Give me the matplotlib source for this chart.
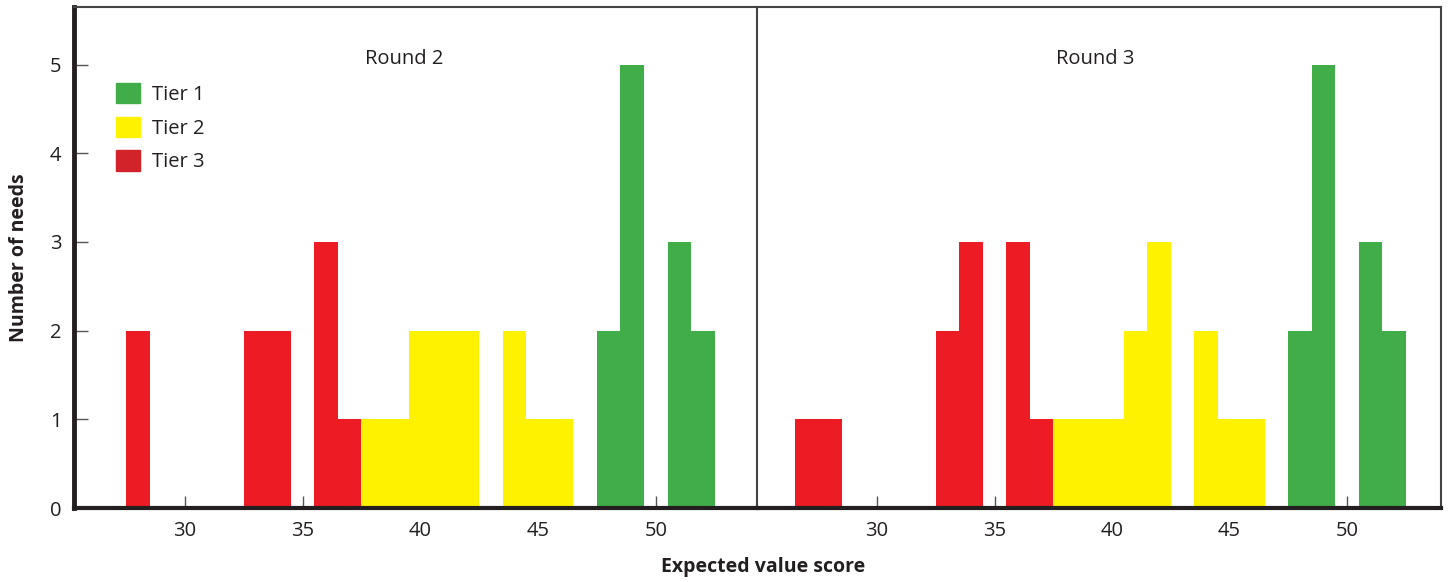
import matplotlib.pyplot as plt
from matplotlib.patches import Patch

plt.rcParams['font.family'] = ['Open Sans', 'DejaVu Sans']

# Expected value score bins and number of needs per tier
r2_tier1_x = [48, 49, 51, 52]
r2_tier1_n = [2, 5, 3, 2]
r2_tier2_x = [38, 39, 40, 41, 42, 44, 45, 46]
r2_tier2_n = [1, 1, 2, 2, 2, 2, 1, 1]
r2_tier3_x = [28, 33, 34, 36, 37]
r2_tier3_n = [2, 2, 2, 3, 1]

r3_tier1_x = [48, 49, 51, 52]
r3_tier1_n = [2, 5, 3, 2]
r3_tier2_x = [38, 39, 40, 41, 42, 44, 45, 46]
r3_tier2_n = [1, 1, 1, 2, 3, 2, 1, 1]
r3_tier3_x = [27, 28, 33, 34, 36, 37]
r3_tier3_n = [1, 1, 2, 3, 3, 1]

x_ticks = [30, 35, 40, 45, 50]
y_ticks = [0, 1, 2, 3, 4, 5]

GREEN = '#41ad49'
YELLOW = '#fff200'
RED = '#ed1c24'
LEGEND_RED = '#d2232a'
DARK = '#231f20'


def draw_panel(ax, tiers, title, xlim):
    '''
    Draws the bars of one round onto ax
    '''
    for xs, ns, color in tiers:
        ax.bar(xs, ns, width=1.0, color=color, edgecolor='none', zorder=2)
    ax.set_xlim(*xlim)
    ax.set_ylim(0, 5.65)
    ax.set_xticks(x_ticks)
    ax.set_yticks(y_ticks)
    ax.tick_params(axis='x', direction='in', length=9, width=1,
                   color='#555555', labelsize=14.5, pad=9,
                   labelcolor=DARK)
    ax.tick_params(axis='y', direction='in', length=10, width=1,
                   color='#555555', labelsize=14.5, pad=9,
                   labelcolor=DARK)
    ax.text(39.3, 5.06, title, ha='center', va='center', fontsize=14.5,
            color=DARK)
    for side in ['top', 'right', 'left']:
        ax.spines[side].set_linewidth(1.5)
        ax.spines[side].set_color('#444444')
    ax.spines['bottom'].set_linewidth(3)
    ax.spines['bottom'].set_color(DARK)


def main():
    fig = plt.figure(figsize=(14.51, 5.82), dpi=100)
    ax1 = fig.add_axes([74 / 1451, 1 - 508 / 582, 683 / 1451, 501 / 582])
    ax2 = fig.add_axes([757 / 1451, 1 - 508 / 582, 684 / 1451, 501 / 582])

    draw_panel(ax1, [(r2_tier3_x, r2_tier3_n, RED),
                     (r2_tier2_x, r2_tier2_n, YELLOW),
                     (r2_tier1_x, r2_tier1_n, GREEN)],
               'Round 2', (25.29, 54.3))
    draw_panel(ax2, [(r3_tier3_x, r3_tier3_n, RED),
                     (r3_tier2_x, r3_tier2_n, YELLOW),
                     (r3_tier1_x, r3_tier1_n, GREEN)],
               'Round 3', (24.89, 54.0))

    ax1.spines['left'].set_linewidth(3.5)
    ax1.spines['left'].set_color(DARK)
    ax1.spines['right'].set_visible(False)
    ax2.tick_params(axis='y', left=False, labelleft=False)

    handles = [Patch(color=GREEN, label='Tier 1'),
               Patch(color=YELLOW, label='Tier 2'),
               Patch(color=LEGEND_RED, label='Tier 3')]
    ax1.legend(handles=handles, loc='upper left',
               bbox_to_anchor=(0.035, 0.885), frameon=False,
               fontsize=14.5, handlelength=1.2, handleheight=1.2,
               handletextpad=0.6, labelspacing=0.58, labelcolor=DARK)

    ax1.set_ylabel('Number of needs', fontsize=14, fontweight='bold',
                   color=DARK, labelpad=15)
    fig.text(0.526, 0.018, 'Expected value score', ha='center',
             fontsize=14, fontweight='bold', color=DARK)

    fig.savefig('out.png', dpi=100)


if __name__ == "__main__":
    main()
